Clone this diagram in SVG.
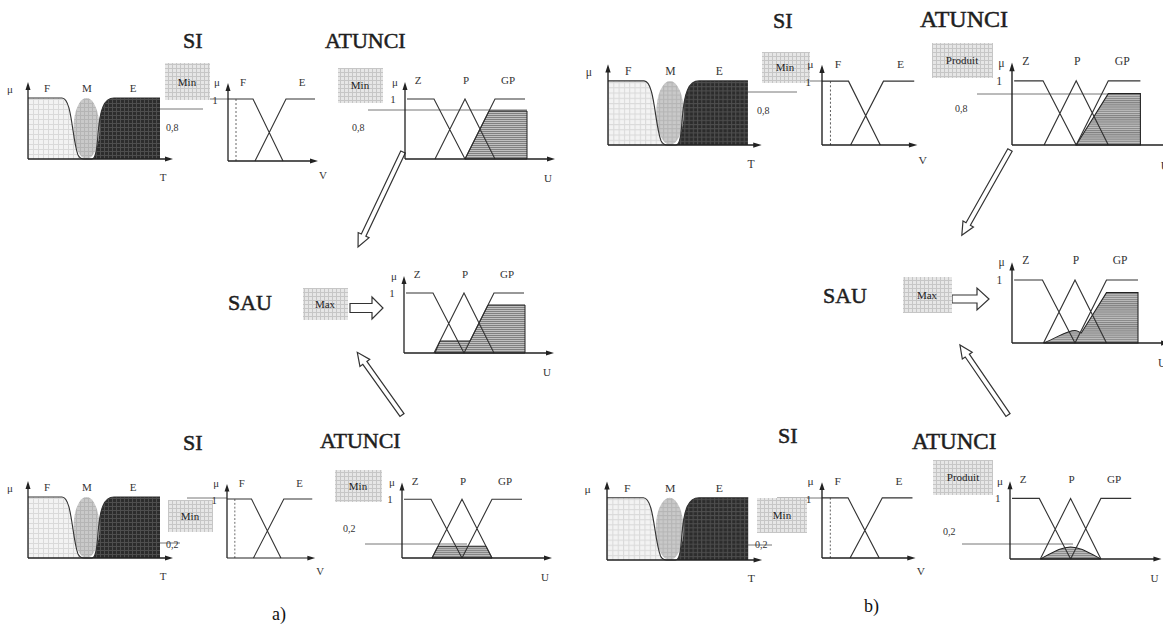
<svg xmlns="http://www.w3.org/2000/svg" xmlns:xlink="http://www.w3.org/1999/xlink" width="1163" height="628" viewBox="0 0 1163 628">
<style>
.ln{fill:none;stroke:#333;stroke-width:1.1}
.ax{fill:none;stroke:#222;stroke-width:1.3}
.ah{fill:#222}
.dot{fill:none;stroke:#666;stroke-width:1;stroke-dasharray:2,2}
.lb{font-family:"Liberation Serif",serif;font-size:11px;fill:#333;text-anchor:middle}
.sm{font-family:"Liberation Serif",serif;font-size:10px;fill:#333}
.ttl{font-family:"Liberation Serif",serif;fill:#1e1e1e;stroke:#1e1e1e;stroke-width:0.5}
.bx{fill:url(#pBox)}
.bt{font-family:"Liberation Serif",serif;font-size:11px;fill:#222;text-anchor:middle}
.lvl{fill:none;stroke:#777;stroke-width:1}
.sh{fill:url(#pS);stroke:#222;stroke-width:1}
.arr{fill:#fff;stroke:#333;stroke-width:1.2}
</style>
<defs>
<pattern id="pBox" width="4" height="4" patternUnits="userSpaceOnUse"><rect width="4" height="4" fill="#e6e6e6"/><path d="M0,0.5H4M0.5,0V4" stroke="#c6c6c6" stroke-width="1"/></pattern>
<pattern id="pF" width="5" height="5" patternUnits="userSpaceOnUse"><rect width="5" height="5" fill="#f3f3f3"/><path d="M0,0.5H5M0.5,0V5" stroke="#dadada" stroke-width="1"/></pattern>
<pattern id="pM" width="4" height="4" patternUnits="userSpaceOnUse"><rect width="4" height="4" fill="#c9c9c9"/><path d="M0,0.5H4M0.5,0V4" stroke="#b5b5b5" stroke-width="1"/></pattern>
<pattern id="pE" width="4" height="4" patternUnits="userSpaceOnUse"><rect width="4" height="4" fill="#2c2c2c"/><path d="M0,0.5H4M0.5,0V4" stroke="#4e4e4e" stroke-width="1"/></pattern>
<pattern id="pS" width="4" height="2" patternUnits="userSpaceOnUse"><rect width="4" height="2" fill="#c0c0c0"/><path d="M0,0.5H4" stroke="#808080" stroke-width="1"/></pattern>
<g id="tch">
<path fill="url(#pF)" d="M0,0V-61H34C44,-61 44,-20 50,-4C52,0 54,0 56,0Z"/>
<path fill="url(#pE)" d="M64,0C68,0 69,-10 70,-25C72,-50 76,-61 86,-61H132V0Z"/>
<ellipse fill="url(#pM)" cx="58.5" cy="-30.5" rx="13" ry="30.5"/>
<path class="ln" d="M0,-61H34C44,-61 44,-20 50,-4C52,0 54,0 56,0H64C68,0 69,-10 70,-25C72,-50 76,-61 86,-61H132"/>
<path class="ax" d="M0,0V-70M0,0H138"/>
<path class="ah" d="M-2.5,-69L0,-77L2.5,-69ZM137,-2.5L145,0L137,2.5Z"/>
<text class="lb" x="-18" y="-66">μ</text><text class="lb" x="19" y="-67">F</text><text class="lb" x="59" y="-67">M</text><text class="lb" x="105" y="-67">E</text><text class="lb" x="135" y="22">T</text>
</g>
<g id="vch">
<path class="dot" d="M8,0V-62"/>
<path class="ln" d="M0,-62H25L55,0M27,0L58,-62H87"/>
<path class="ax" d="M0,0V-71M0,0H83"/>
<path class="ah" d="M-2.5,-70L0,-78L2.5,-70ZM82,-2.5L90,0L82,2.5Z"/>
<text class="lb" x="-11" y="-75">μ</text><text class="lb" x="15" y="-75">F</text><text class="lb" x="74" y="-75">E</text><text class="lb" x="-13" y="-57">1</text><text class="lb" x="95" y="18">V</text>
</g>
<g id="uch">
<path class="ln" d="M2,-60H29L60,0M30,0L60,-60L90,0M60,0L90,-60H120"/>
<path class="ax" d="M0,0V-70M0,0H143"/>
<path class="ah" d="M-2.5,-69L0,-77L2.5,-69ZM142,-2.5L150,0L142,2.5Z"/>
<text class="lb" x="-10" y="-73">μ</text><text class="lb" x="13" y="-75">Z</text><text class="lb" x="61" y="-75">P</text><text class="lb" x="103" y="-75">GP</text><text class="lb" x="-12" y="-56">1</text><text class="lb" x="143" y="23">U</text>
</g>
</defs>
<rect width="1163" height="628" fill="#fff"/>

<g id="connectors">
<path class="lvl" d="M160,109H203M188,99H228M368,110H527"/>
<path class="lvl" d="M160,543H180M187,498H227M365,544H467"/>
<path class="lvl" d="M748,92H797M793,81H822M977,94H1140"/>
<path class="lvl" d="M748,545H772M777,498H822M962,544H1073"/>
<path class="arr" transform="translate(403,152) rotate(115.35)" d="M0,-2.5H92V-6L105,0L92,6V2.5H0Z"/>
<path class="arr" transform="translate(402,415) rotate(-125.5)" d="M0,-2.5H64V-6L77,0L64,6V2.5H0Z"/>
<path class="arr" transform="translate(1010,150) rotate(119.45)" d="M0,-2.5H85V-6L98,0L85,6V2.5H0Z"/>
<path class="arr" transform="translate(1008,415) rotate(-124.44)" d="M0,-2.5H72V-6L85,0L72,6V2.5H0Z"/>
<path class="arr" d="M350,303.5H372V297L383,308L372,319V312.5H350Z"/>
<path class="arr" d="M952,295H977V288L989,299L977,310V303H952Z"/>
</g>

<g id="panel-a-top">
<text class="ttl" x="183" y="48" font-size="22">SI</text>
<text class="ttl" x="325" y="48" font-size="22">ATUNCI</text>
<g id="a-top-T" transform="translate(28,159)"><use xlink:href="#tch"/></g>
<g id="a-top-min1"><rect class="bx" x="165" y="63" width="45" height="37"/><text class="bt" x="187" y="86">Min</text></g>
<text class="sm" x="166" y="131">0,8</text>
<g id="a-top-V" transform="translate(228,161)"><use xlink:href="#vch"/></g>
<g id="a-top-min2"><rect class="bx" x="338" y="68" width="45" height="35"/><text class="bt" x="360" y="89">Min</text></g>
<text class="sm" x="352" y="131">0,8</text>
<g id="a-top-U" transform="translate(405,159)"><path class="sh" d="M60,0L84,-48H122V0Z"/><use xlink:href="#uch"/></g>
</g>

<g id="panel-a-mid">
<text class="ttl" x="228" y="310" font-size="22">SAU</text>
<g id="a-mid-max"><rect class="bx" x="303" y="288" width="45" height="32"/><text class="bt" x="325" y="308">Max</text></g>
<g id="a-mid-U" transform="translate(404,353)"><path class="sh" d="M31,0L36,-12H66L84,-48H121V0Z"/><use xlink:href="#uch"/></g>
</g>

<g id="panel-a-bot">
<text class="ttl" x="183" y="450" font-size="22">SI</text>
<text class="ttl" x="320" y="448" font-size="22">ATUNCI</text>
<g id="a-bot-T" transform="translate(28,558)"><use xlink:href="#tch"/></g>
<g id="a-bot-min1"><rect class="bx" x="168" y="500" width="45" height="32"/><text class="bt" x="190" y="520">Min</text></g>
<text class="sm" x="166" y="548">0,2</text>
<g id="a-bot-V" transform="translate(227,558) scale(0.98,0.95)"><use xlink:href="#vch"/></g>
<g id="a-bot-min2"><rect class="bx" x="335" y="470" width="47" height="32"/><text class="bt" x="358" y="490">Min</text></g>
<text class="sm" x="343" y="532">0,2</text>
<g id="a-bot-U" transform="translate(402,558) scale(1,0.98)"><path class="sh" d="M30,0L36,-12H84L90,0Z"/><use xlink:href="#uch"/></g>
</g>

<g id="panel-b-top">
<text class="ttl" x="773" y="28" font-size="22">SI</text>
<text class="ttl" x="920" y="27" font-size="24">ATUNCI</text>
<g id="b-top-T" transform="translate(608,145) scale(1.06,1.05)"><use xlink:href="#tch"/></g>
<g id="b-top-min"><rect class="bx" x="762" y="52" width="48" height="31"/><text class="bt" x="785" y="71">Min</text></g>
<text class="sm" x="757" y="114">0,8</text>
<g id="b-top-V" transform="translate(822,145) scale(1.06,1.03)"><use xlink:href="#vch"/></g>
<g id="b-top-prod"><rect class="bx" x="932" y="43" width="61" height="35"/><text class="bt" x="962" y="64">Produit</text></g>
<text class="sm" x="955" y="112">0,8</text>
<g id="b-top-U" transform="translate(1012,145) scale(1.07)"><path class="sh" d="M60,0L90,-48H120V0Z"/><use xlink:href="#uch"/></g>
</g>

<g id="panel-b-mid">
<text class="ttl" x="823" y="303" font-size="22">SAU</text>
<g id="b-mid-max"><rect class="bx" x="903" y="277" width="49" height="36"/><text class="bt" x="927" y="299">Max</text></g>
<g id="b-mid-U" transform="translate(1012,343) scale(1.05)"><path class="sh" d="M30,0C45,-6 52,-12 60,-12C63,-12 64,-10 66,-9.6L90,-48H120V0Z"/><use xlink:href="#uch"/></g>
</g>

<g id="panel-b-bot">
<text class="ttl" x="778" y="443" font-size="22">SI</text>
<text class="ttl" x="912" y="449" font-size="23">ATUNCI</text>
<g id="b-bot-T" transform="translate(607,560) scale(1.07,1.02)"><use xlink:href="#tch"/></g>
<g id="b-bot-min"><rect class="bx" x="757" y="498" width="50" height="35"/><text class="bt" x="782" y="519">Min</text></g>
<text class="sm" x="755" y="548">0,2</text>
<g id="b-bot-V" transform="translate(822,558) scale(1.04,0.97)"><use xlink:href="#vch"/></g>
<g id="b-bot-prod"><rect class="bx" x="933" y="460" width="60" height="35"/><text class="bt" x="963" y="481">Produit</text></g>
<text class="sm" x="943" y="535">0,2</text>
<g id="b-bot-U" transform="translate(1010,559) scale(1.01)"><path class="sh" d="M30,0C45,-8 52,-12 60,-12C68,-12 75,-8 90,0Z"/><use xlink:href="#uch"/></g>
</g>

<text x="272" y="620" font-size="18" font-family="Liberation Serif, serif" fill="#111">a)</text>
<text x="864" y="612" font-size="18" font-family="Liberation Serif, serif" fill="#111">b)</text>
</svg>
